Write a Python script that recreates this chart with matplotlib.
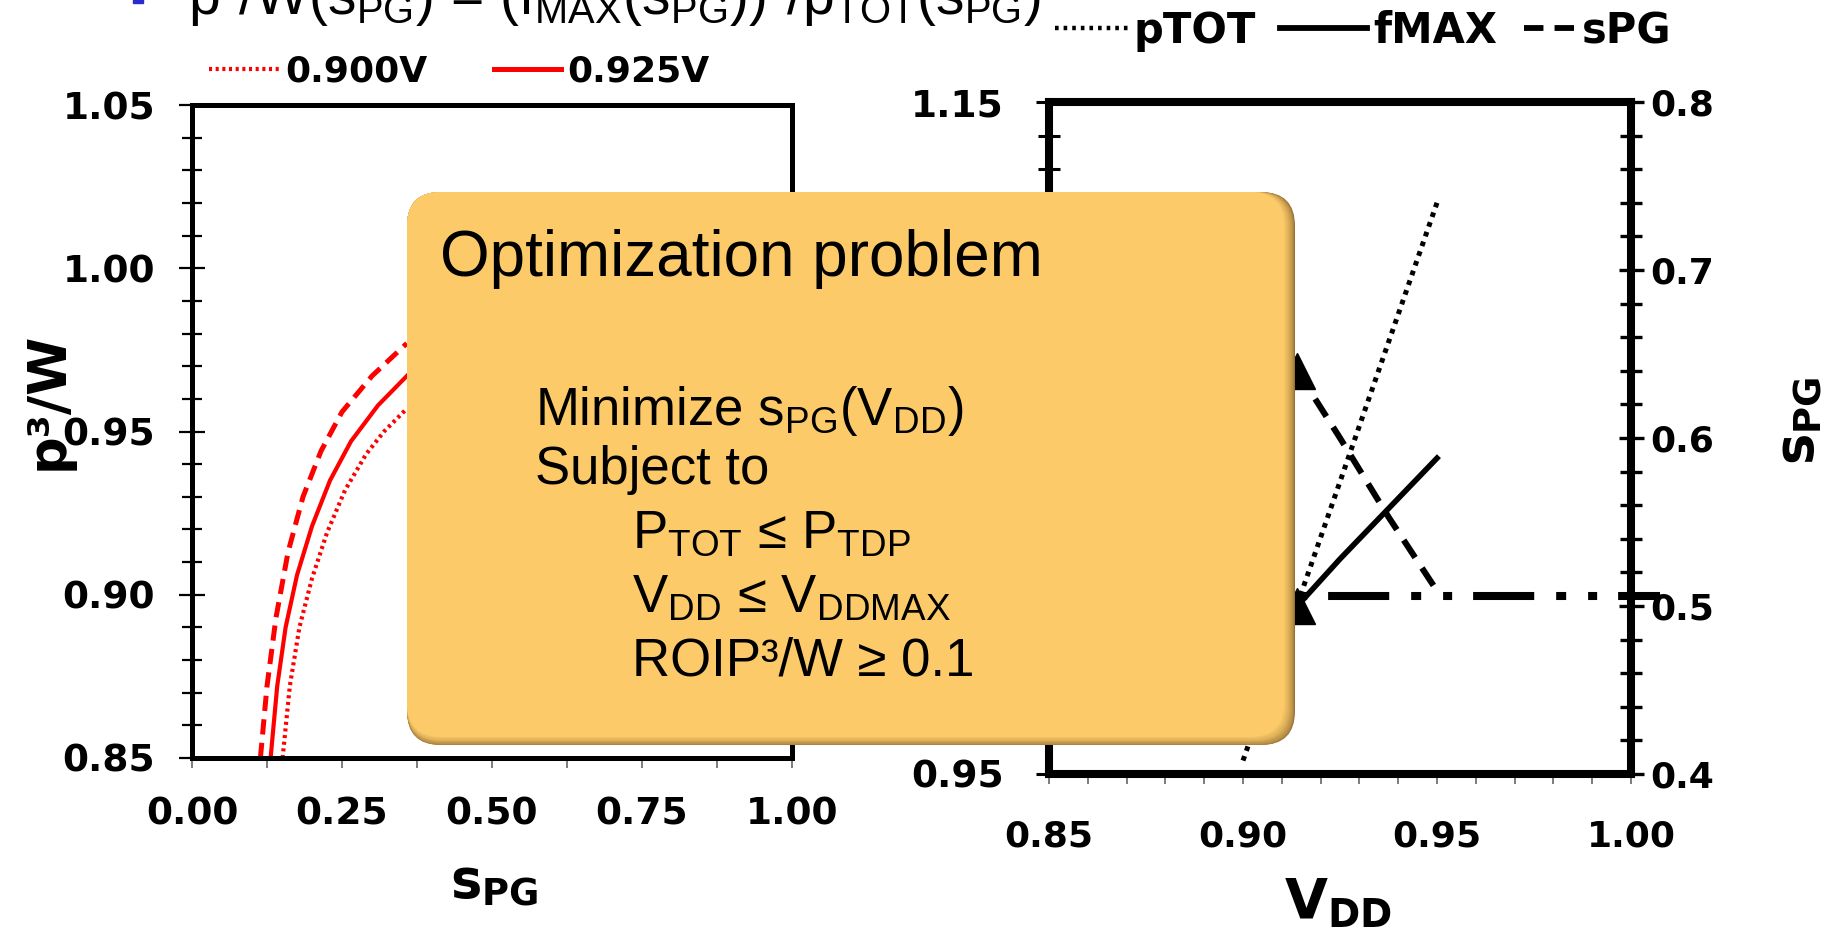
import numpy as np
import matplotlib
matplotlib.use("Agg")
import matplotlib.pyplot as plt
from matplotlib.lines import Line2D
from matplotlib.legend import Legend
from matplotlib.patches import FancyBboxPatch
from matplotlib.ticker import MultipleLocator, FormatStrFormatter
from matplotlib.transforms import IdentityTransform

plt.rcParams["font.family"] = ["DejaVu Sans"]
plt.rcParams["font.weight"] = "bold"
plt.rcParams["axes.labelweight"] = "bold"
plt.rcParams["mathtext.fontset"] = "custom"
plt.rcParams["mathtext.rm"] = "Liberation Sans:weight=normal"
plt.rcParams["mathtext.it"] = "Liberation Sans:italic:weight=normal"
plt.rcParams["mathtext.bf"] = "DejaVu Sans:bold"
plt.rcParams["lines.scale_dashes"] = False

# ---------------- data ----------------
# left panel: p^3/W against power-gating fraction s_PG, per supply voltage
spg_900 = [0.151, 0.163, 0.179, 0.200, 0.225, 0.255, 0.290, 0.320, 0.358]
p3w_900 = [0.850, 0.872, 0.890, 0.905, 0.919, 0.932, 0.943, 0.950, 0.957]
spg_925 = [0.131, 0.142, 0.156, 0.175, 0.200, 0.230, 0.265, 0.310, 0.358]
p3w_925 = [0.850, 0.872, 0.890, 0.906, 0.921, 0.935, 0.947, 0.958, 0.967]
spg_950 = [0.114, 0.125, 0.140, 0.160, 0.185, 0.215, 0.250, 0.300, 0.358]
p3w_950 = [0.850, 0.872, 0.893, 0.913, 0.930, 0.944, 0.956, 0.967, 0.977]
left_labels = ["0.900V", "0.925V"]

# right panel: normalised pTOT / fMAX (left axis) and s_PG (right axis) vs VDD
vdd_ptot = [0.900, 0.925, 0.950]
ptot = [0.954, 1.037, 1.120]
vdd_fmax = [0.914, 0.925, 0.9375, 0.950]
fmax = [1.000, 1.014, 1.029, 1.044]
vdd_spg = [0.914, 0.925, 0.9375, 0.950]
spg = [0.640, 0.600, 0.553, 0.509]
vdd_floor = [0.914, 1.0075]
spg_floor = [0.506, 0.506]
vdd_opt = [0.914, 0.914]
spg_opt = [0.640, 0.500]
right_labels = ["pTOT", "fMAX", "sPG"]

left_xticks = [0.00, 0.25, 0.50, 0.75, 1.00]
left_yticks = [0.85, 0.90, 0.95, 1.00, 1.05]
right_xticks = [0.85, 0.90, 0.95, 1.00]
right_yticks = [0.95, 1.00, 1.05, 1.10, 1.15]
spg_ticks = [0.4, 0.5, 0.6, 0.7, 0.8]

# ---------------- figure ----------------
W, H = 1824, 940
fig = plt.figure(figsize=(W / 100, H / 100), dpi=100)
fig.patch.set_facecolor("white")


def fx(px):
    return px / W


def fy(py):
    return 1 - py / H


def legend_entry(ax, handle, label, x_px, y_px, length_px, fontsize, pad_px=6):
    """Place one legend entry with its line starting at pixel (x_px, y_px)."""
    leg = Legend(ax, [handle], [label], loc="center left",
                 bbox_to_anchor=(fx(x_px), fy(y_px)), bbox_transform=fig.transFigure,
                 frameon=False, fontsize=fontsize,
                 handlelength=length_px * 0.72 / fontsize,
                 handletextpad=pad_px * 0.72 / fontsize,
                 borderpad=0, borderaxespad=0)
    ax.add_artist(leg)


# ----- left panel -----
axL = fig.add_axes([fx(192), fy(758), (792 - 192) / W, (758 - 105) / H])
axL.set_xlim(0, 1)
axL.set_ylim(0.85, 1.05)
red = "#ff0000"
dot_red = (0, (2.2, 2.6))
axL.plot(spg_900, p3w_900, color=red, lw=3.0, linestyle=dot_red)
axL.plot(spg_925, p3w_925, color=red, lw=3.0)
axL.plot(spg_950, p3w_950, color=red, lw=3.6, linestyle=(0, (11, 6)))

axL.set_xticks(left_xticks)
axL.set_yticks(left_yticks)
axL.xaxis.set_minor_locator(MultipleLocator(0.125))
axL.yaxis.set_minor_locator(MultipleLocator(0.01))
axL.xaxis.set_major_formatter(FormatStrFormatter("%.2f"))
axL.yaxis.set_major_formatter(FormatStrFormatter("%.2f"))
axL.tick_params(axis="y", which="major", direction="inout", length=19, width=1.6, pad=17, labelsize=27)
axL.tick_params(axis="y", which="minor", direction="inout", length=15, width=1.6)
axL.tick_params(axis="x", which="both", direction="out", length=7, width=1.2, color="#666666")
axL.tick_params(axis="x", which="major", pad=21, labelsize=27)
for s in axL.spines.values():
    s.set_linewidth(3.6)

axL.set_ylabel("p³/W", fontsize=38, fontweight="bold", va="center", ha="center")
axL.yaxis.set_label_coords(fx(48), fy(401), transform=fig.transFigure)
axL.set_xlabel(r"$\mathbf{s_{PG}}$", fontsize=38, va="center")
axL.xaxis.set_label_coords(fx(494), fy(883), transform=fig.transFigure)

legend_entry(axL, Line2D([], [], color=red, lw=3.0, linestyle=dot_red),
             left_labels[0], 209, 72, 70, 26)
legend_entry(axL, Line2D([], [], color=red, lw=3.6),
             left_labels[1], 494, 72, 67, 26)

# ----- right panel -----
axR = fig.add_axes([fx(1049), fy(774), (1631 - 1049) / W, (774 - 102) / H])
axR.set_xlim(0.85, 1.00)
axR.set_ylim(0.95, 1.15)
axS = axR.twinx()
axS.set_ylim(0.4, 0.8)

dot_k = (0, (3.4, 4.0))
dash_k = (0, (15, 9))
axR.plot(vdd_ptot, ptot, color="black", lw=3.6, linestyle=dot_k)
axR.plot(vdd_fmax, fmax, color="black", lw=4.0)
axS.plot(vdd_spg, spg, color="black", lw=4.4, linestyle=dash_k)
axS.plot(vdd_floor, spg_floor, color="black", lw=5.8, clip_on=False,
         linestyle=(82, (44, 15.8, 7.2, 15.8, 6.5, 15.1)))
axS.plot(vdd_opt, spg_opt, linestyle="none", marker="^", ms=26, color="black")

axR.set_xticks(right_xticks)
axR.set_yticks(right_yticks)
axR.xaxis.set_minor_locator(MultipleLocator(0.01))
axR.yaxis.set_minor_locator(MultipleLocator(0.01))
axR.xaxis.set_major_formatter(FormatStrFormatter("%.2f"))
axR.yaxis.set_major_formatter(FormatStrFormatter("%.2f"))
axR.tick_params(axis="y", which="major", direction="inout", length=19, width=2.2, pad=23, labelsize=27)
axR.tick_params(axis="y", which="minor", direction="inout", length=16, width=2.2)
axR.tick_params(axis="x", which="both", direction="out", length=7, width=1.2, color="#666666")
axR.tick_params(axis="x", which="major", pad=26, labelsize=26)

axS.set_yticks(spg_ticks)
axS.yaxis.set_minor_locator(MultipleLocator(0.02))
axS.yaxis.set_major_formatter(FormatStrFormatter("%.1f"))
axS.tick_params(axis="y", which="major", direction="inout", length=18, width=2.4, pad=5, labelsize=26)
axS.tick_params(axis="y", which="minor", direction="inout", length=16, width=2.4)

for s in axR.spines.values():
    s.set_linewidth(5.8)
axR.spines["right"].set_visible(False)
for k in ("left", "top", "bottom"):
    axS.spines[k].set_visible(False)
axS.spines["right"].set_linewidth(5.8)

axR.set_xlabel(r"$\mathbf{V_{DD}}$", fontsize=40, va="center")
axR.xaxis.set_label_coords(fx(1338), fy(903), transform=fig.transFigure)
axS.set_ylabel(r"$\mathbf{s_{PG}}$", fontsize=38, rotation=90, va="center", ha="center")
axS.yaxis.set_label_coords(fx(1799), fy(421), transform=fig.transFigure)

legend_entry(axS, Line2D([], [], color="black", lw=3.2, linestyle=(0, (2.6, 3.6))),
             right_labels[0], 1055, 31, 73, 30)
legend_entry(axS, Line2D([], [], color="black", lw=4.2),
             right_labels[1], 1280, 31, 87, 30)
legend_entry(axS, Line2D([], [], color="black", lw=4.2, linestyle=(0, (14, 8))),
             right_labels[2], 1524, 31, 52, 30)

# ----- call-out box -----
box_left, box_top, box_right, box_bottom = 407, 192, 1295, 745
face = np.array([252, 202, 104]) / 255
shade = np.array([150, 112, 52]) / 255
n_shade = 11
for i in range(n_shade + 1):
    t = (i / n_shade) ** 0.6
    col = shade * (1 - t) + face * t
    r = box_right - i
    b = box_bottom - int(i * 0.8)
    fig.add_artist(FancyBboxPatch((box_left, H - b), r - box_left, b - box_top,
                                  boxstyle="round,pad=0,rounding_size=34",
                                  transform=IdentityTransform(), facecolor=col,
                                  edgecolor="none", zorder=5))

txt = dict(family="Liberation Sans", fontweight="normal", color="black", zorder=6,
           va="baseline", ha="left")
fig.text(fx(440), fy(276), "Optimization problem", fontsize=46, **txt)
fig.text(fx(535), fy(425), r"Minimize s$_{\mathrm{PG}}$(V$_{\mathrm{DD}}$)", fontsize=38, **txt)
fig.text(fx(535), fy(484), "Subject to", fontsize=38, **txt)
fig.text(fx(632), fy(548), r"P$_{\mathrm{TOT}}$ ≤ P$_{\mathrm{TDP}}$", fontsize=38, **txt)
fig.text(fx(632), fy(613), r"V$_{\mathrm{DD}}$ ≤ V$_{\mathrm{DDMAX}}$", fontsize=38, **txt)
fig.text(fx(632), fy(675), "ROIP³/W ≥ 0.1", fontsize=38, **txt)

# ----- slide bullet heading, running off the top edge -----
fig.text(fx(188), fy(14),
         r"p³/W(s$_{\mathrm{PG}}$) = (f$_{\mathrm{MAX}}$(s$_{\mathrm{PG}}$))³/p$_{\mathrm{TOT}}$(s$_{\mathrm{PG}}$)",
         fontsize=41, **txt)
fig.add_artist(Line2D([fx(138)], [fy(-2)], marker="s", ms=7, color="#2a2ad0",
                      transform=fig.transFigure, clip_on=False))

fig.savefig("out.png", dpi=100)
